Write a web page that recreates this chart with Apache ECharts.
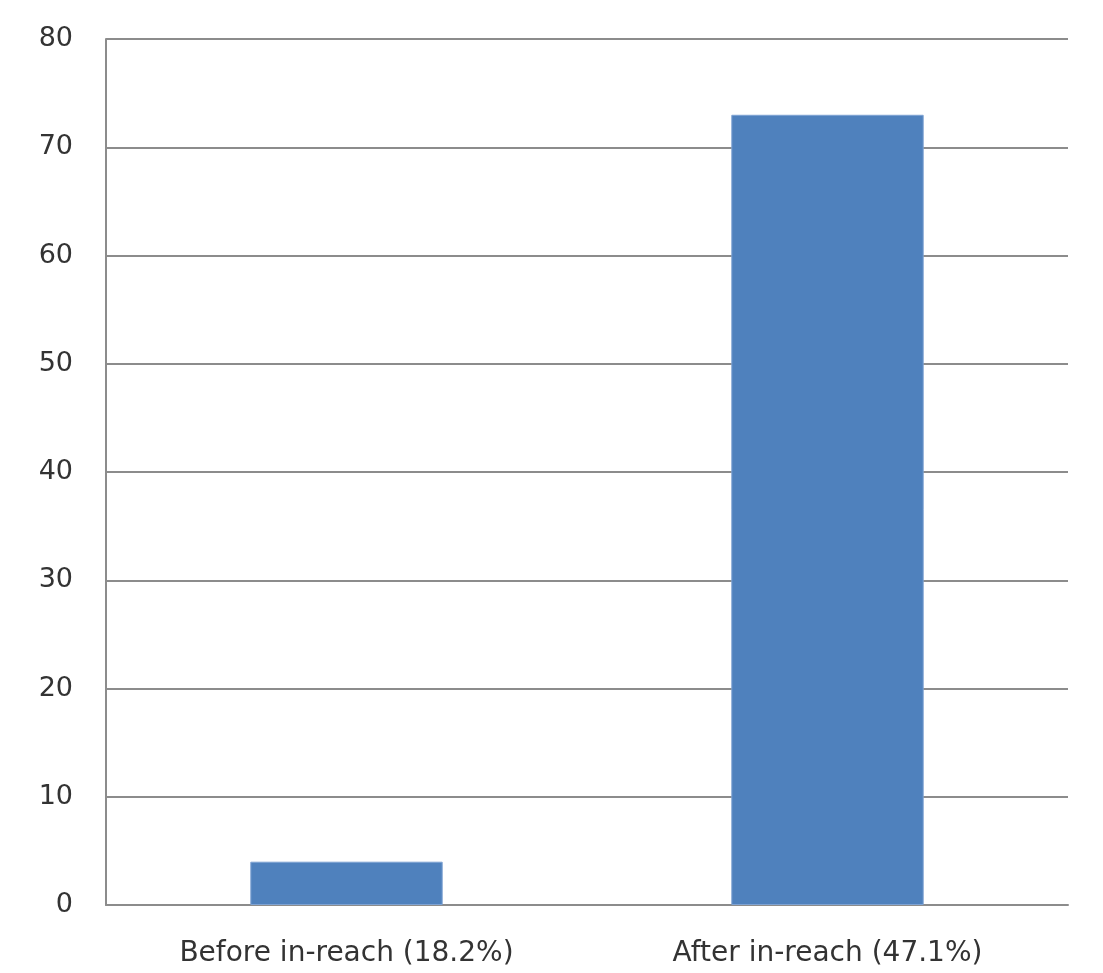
<!DOCTYPE html>
<html>
<head>
<meta charset="utf-8">
<script src="https://cdn.jsdelivr.net/npm/echarts@6/dist/echarts.min.js"></script>
<style>
  html, body { margin: 0; padding: 0; background: #ffffff; }
  #chart { width: 1103px; height: 973px; }
</style>
</head>
<body>
<div id="chart"></div>
<script>
// Categories and values for the bar chart
const categories = ['Before in-reach (18.2%)', 'After in-reach (47.1%)'];
const values = [4, 73];
const yTicks = { min: 0, max: 80, interval: 10 };

const gridColor = '#8c8c8c';
const textColor = '#333333';
const fontFamily = '"DejaVu Sans", sans-serif';

const chart = echarts.init(document.getElementById('chart'));
chart.setOption({
  backgroundColor: '#ffffff',
  animation: false,
  grid: { left: 106, right: 35, top: 39, bottom: 68, containLabel: false },
  xAxis: {
    type: 'category',
    data: categories,
    axisLine: { show: true, lineStyle: { color: gridColor, width: 2 } },
    axisTick: { show: false },
    axisLabel: { color: textColor, fontSize: 28, fontFamily: fontFamily, margin: 35 }
  },
  yAxis: {
    type: 'value',
    min: yTicks.min,
    max: yTicks.max,
    interval: yTicks.interval,
    axisLine: { show: true, lineStyle: { color: gridColor, width: 2 } },
    axisTick: { show: false },
    axisLabel: { color: textColor, fontSize: 27, fontFamily: fontFamily, margin: 33 },
    splitLine: { show: true, lineStyle: { color: gridColor, width: 2 } }
  },
  series: [{
    type: 'bar',
    data: values,
    barWidth: '40%',
    itemStyle: { color: '#4f81bd', borderColor: '#7fa3d3', borderWidth: 1 }
  }]
});
</script>
</body>
</html>
